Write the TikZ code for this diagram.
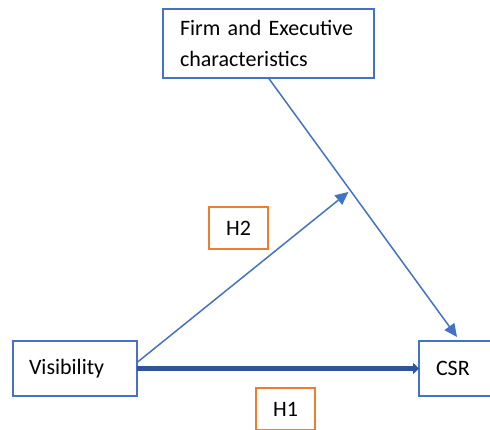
\documentclass[tikz,border=0pt]{standalone}
\usepackage{fontspec}
\setmainfont{Carlito}
\usetikzlibrary{arrows.meta}

\definecolor{boxblue}{HTML}{4472C4}
\definecolor{darkblue}{HTML}{2F5597}
\definecolor{hyporange}{HTML}{ED7D31}

\tikzset{
  varbox/.style={draw=boxblue, line width=1.5pt, outer sep=0pt, inner sep=0pt,
                 font=\fontsize{22}{31}\selectfont, align=left},
  hypbox/.style={draw=hyporange, line width=1.5pt, outer sep=0pt, inner sep=0pt,
                 minimum width=59pt, minimum height=42pt, font=\fontsize{22}{26}\selectfont},
  link/.style={draw=boxblue, line width=1.5pt},
}

\begin{document}
\begin{tikzpicture}[x=1pt,y=-1pt]

\useasboundingbox (0,0) rectangle (490,430);

% variables
\node[varbox, minimum width=211pt, minimum height=69pt, text width=177pt] (firm) at (268.5,43.5)
   {Firm and Executive\\characteristics};
\node[varbox, minimum width=124pt, minimum height=55pt, text width=92pt] (vis) at (75,368.5) {Visibility};
\node[varbox, minimum width=76pt, minimum height=55pt, text width=42pt] (csr) at (457,368.5) {CSR};

% hypotheses
\node[hypbox] (htwo) at (238.5,228) {H2};
\node[hypbox] (hone) at (285.5,409) {H1};

% paths
\coordinate (csrtop) at ([xshift=0pt]csr.north);
\draw[link, -{Triangle[length=13pt,width=12pt]}] (firm.south) -- coordinate[pos=0.44] (mid) ([yshift=4pt]csrtop);
\draw[link, -{Triangle[length=13pt,width=12pt]}] ([yshift=6pt]vis.east) -- ([xshift=-3pt]mid);
\draw[draw=darkblue, line width=4.5pt, -{Triangle[length=6pt,width=11pt]}] (vis.east) -- (csr.west);

\end{tikzpicture}
\end{document}
